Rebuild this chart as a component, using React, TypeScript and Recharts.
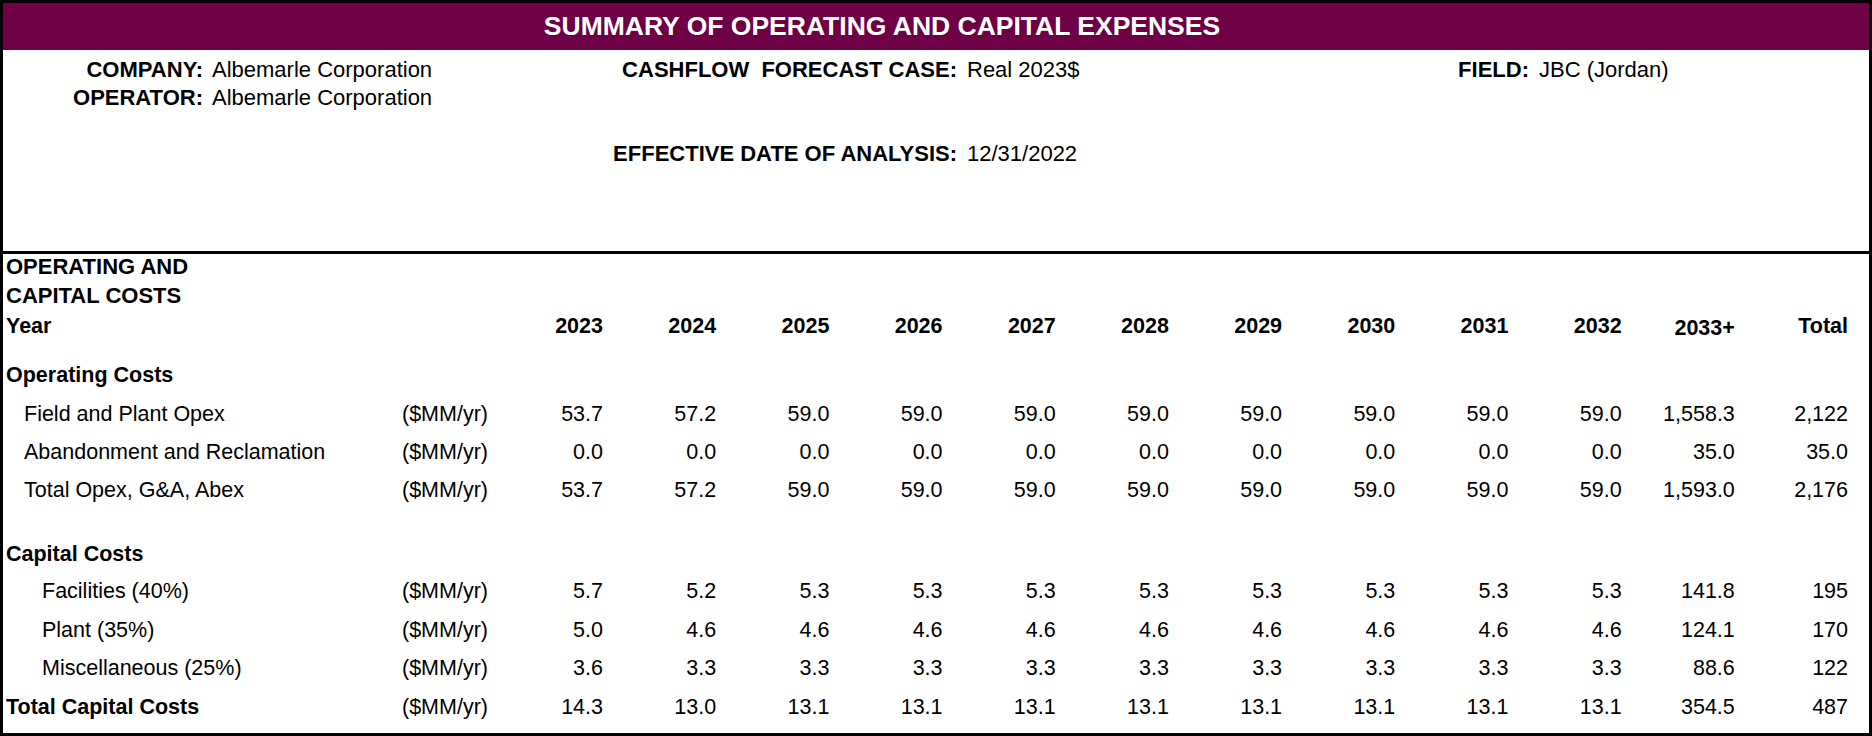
import { ScatterChart, Scatter, XAxis, YAxis } from 'recharts'

const FONT = '"Liberation Sans", Arial, sans-serif'

const columns = ['2023', '2024', '2025', '2026', '2027', '2028', '2029', '2030', '2031', '2032', '2033+', 'Total']

const rowLabels = [
  'Year',
  'Operating Costs',
  'Field and Plant Opex',
  'Abandonment and Reclamation',
  'Total Opex, G&A, Abex',
  'Capital Costs',
  'Facilities (40%)',
  'Plant (35%)',
  'Miscellaneous (25%)',
  'Total Capital Costs',
]
const rowUnits = ['', '', '($MM/yr)', '($MM/yr)', '($MM/yr)', '', '($MM/yr)', '($MM/yr)', '($MM/yr)', '($MM/yr)']

const fieldPlantOpex = [53.7, 57.2, 59.0, 59.0, 59.0, 59.0, 59.0, 59.0, 59.0, 59.0, 1558.3, 2122]
const abandonment = [0.0, 0.0, 0.0, 0.0, 0.0, 0.0, 0.0, 0.0, 0.0, 0.0, 35.0, 35.0]
const totalOpex = [53.7, 57.2, 59.0, 59.0, 59.0, 59.0, 59.0, 59.0, 59.0, 59.0, 1593.0, 2176]
const facilities = [5.7, 5.2, 5.3, 5.3, 5.3, 5.3, 5.3, 5.3, 5.3, 5.3, 141.8, 195]
const plant = [5.0, 4.6, 4.6, 4.6, 4.6, 4.6, 4.6, 4.6, 4.6, 4.6, 124.1, 170]
const misc = [3.6, 3.3, 3.3, 3.3, 3.3, 3.3, 3.3, 3.3, 3.3, 3.3, 88.6, 122]
const totalCapital = [14.3, 13.0, 13.1, 13.1, 13.1, 13.1, 13.1, 13.1, 13.1, 13.1, 354.5, 487]

const valueRows: (number[] | null)[] = [null, null, fieldPlantOpex, abandonment, totalOpex, null, facilities, plant, misc, totalCapital]

// layout: vertical slot of each row (spreadsheet rows are not all the same height)
const ROW_SLOT = [0, 1.31, 2.31, 3.31, 4.33, 6.0, 6.98, 7.98, 8.98, 10]
const ROW_BOLD = [true, true, false, false, false, true, false, false, false, true]
const ROW_X = [6, 6, 24, 24, 24, 6, 42, 42, 42, 6]
const UNIT_X = 402

const fmt = (v: number, col: number) =>
  columns[col] === 'Total' && v >= 100
    ? Math.round(v).toLocaleString('en-US')
    : v.toLocaleString('en-US', { minimumFractionDigits: 1, maximumFractionDigits: 1 })

const points = valueRows.flatMap((vals, r) =>
  vals ? vals.map((v, c) => ({ col: c, row: ROW_SLOT[r], label: fmt(v, c) })) : []
)

const txt = { fontFamily: FONT, fontSize: 21.5, fill: '#000' }

const ColTick = ({ x, y, payload }: any) => (
  <text x={x} y={y + (columns[payload.value] === '2033+' ? 2 : 0)} dy="0.35em" textAnchor="end" fontWeight="bold" {...txt}>
    {columns[payload.value]}
  </text>
)

const RowTick = ({ y, payload }: any) => {
  const i = ROW_SLOT.indexOf(payload.value)
  if (i < 0) return null
  return (
    <g>
      <text x={ROW_X[i]} y={y} dy="0.35em" textAnchor="start" fontWeight={ROW_BOLD[i] ? 'bold' : 'normal'} {...txt}>
        {rowLabels[i]}
      </text>
      {rowUnits[i] && (
        <text x={UNIT_X} y={y} dy="0.35em" textAnchor="start" {...txt}>{rowUnits[i]}</text>
      )}
    </g>
  )
}

const ValueCell = ({ cx, cy, payload }: any) => (
  <text x={cx} y={cy} dy="0.35em" textAnchor="end" {...txt}>{payload.label}</text>
)

const abs = (style: any) => ({ position: 'absolute' as const, whiteSpace: 'pre' as const, lineHeight: '24px', ...style })

export default function App() {
  return (
    <div style={{ position: 'absolute', left: 0, top: 0, width: 1872, height: 736, background: '#fff', fontFamily: FONT, fontSize: 22, color: '#000', overflow: 'hidden' }}>
      <div style={{ position: 'absolute', left: 0, top: 0, width: 1872, height: 50, background: '#6e0046' }} />
      <div style={abs({ left: 0, width: 1764, top: 11, textAlign: 'center', color: '#fff', fontWeight: 'bold', fontSize: 26.5, lineHeight: '30px' })}>
        SUMMARY OF OPERATING AND CAPITAL EXPENSES
      </div>

      <div style={abs({ right: 1872 - 203, top: 58, fontWeight: 'bold' })}>COMPANY:</div>
      <div style={abs({ left: 212, top: 58 })}>Albemarle Corporation</div>
      <div style={abs({ right: 1872 - 203, top: 86, fontWeight: 'bold' })}>OPERATOR:</div>
      <div style={abs({ left: 212, top: 86 })}>Albemarle Corporation</div>
      <div style={abs({ right: 1872 - 957, top: 58, fontWeight: 'bold' })}>CASHFLOW  FORECAST CASE:</div>
      <div style={abs({ left: 967, top: 58 })}>Real 2023$</div>
      <div style={abs({ right: 1872 - 1529, top: 58, fontWeight: 'bold' })}>FIELD:</div>
      <div style={abs({ left: 1539, top: 58 })}>JBC (Jordan)</div>
      <div style={abs({ right: 1872 - 957, top: 142, fontWeight: 'bold' })}>EFFECTIVE DATE OF ANALYSIS:</div>
      <div style={abs({ left: 967, top: 142 })}>12/31/2022</div>

      <div style={{ position: 'absolute', left: 0, top: 251, width: 1872, height: 3, background: '#000' }} />
      <div style={abs({ left: 6, top: 255, fontWeight: 'bold' })}>OPERATING AND</div>
      <div style={abs({ left: 6, top: 284, fontWeight: 'bold' })}>CAPITAL COSTS</div>

      <div style={{ position: 'absolute', left: 0, top: 0 }}>
        <ScatterChart width={1872} height={736} margin={{ top: 295, right: 24, bottom: 30, left: 0 }}>
          <XAxis
            type="number"
            dataKey="col"
            orientation="top"
            domain={[0, columns.length - 1]}
            ticks={columns.map((_, i) => i)}
            interval={0}
            height={30}
            tickSize={0}
            tickMargin={0}
            axisLine={false}
            tickLine={false}
            tick={<ColTick />}
          />
          <YAxis
            type="number"
            dataKey="row"
            domain={[0, 10]}
            reversed
            ticks={ROW_SLOT}
            interval={0}
            width={603}
            axisLine={false}
            tickLine={false}
            tick={<RowTick />}
          />
          <Scatter data={points} isAnimationActive={false} shape={<ValueCell />} />
        </ScatterChart>
      </div>

      <div style={{ position: 'absolute', left: 0, top: 0, width: 1872, height: 736, boxSizing: 'border-box', border: '3px solid #000', pointerEvents: 'none' }} />
    </div>
  )
}
